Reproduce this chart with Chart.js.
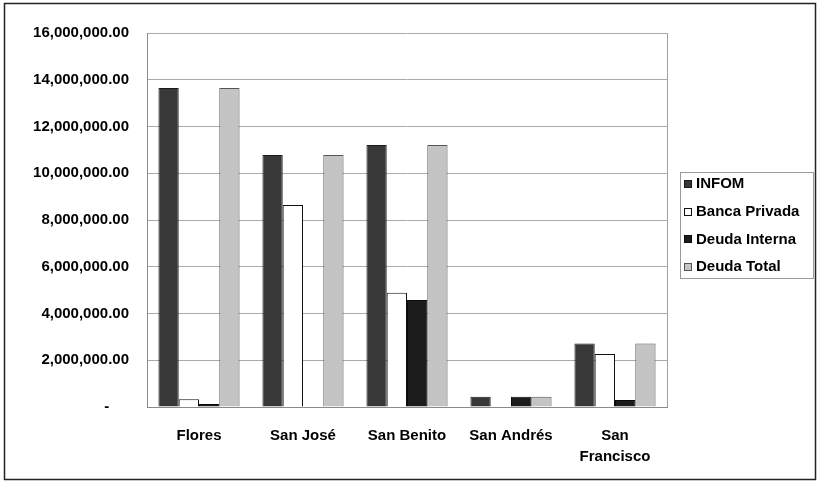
<!DOCTYPE html>
<html>
<head>
<meta charset="utf-8">
<script src="https://cdn.jsdelivr.net/npm/chart.js@4.4.1/dist/chart.umd.min.js"></script>
<style>
  html, body { margin: 0; padding: 0; background: #ffffff; }
  #wrap { width: 819px; height: 484px; }
</style>
</head>
<body>
<div id="wrap"><canvas id="chart" width="819" height="484"></canvas></div>
<script>
// Municipalities (last one wraps onto two lines)
const categories = ['Flores', 'San José', 'San Benito', 'San Andrés', ['San', 'Francisco']];

// Debt by source, in quetzales
const infom        = [13650000, 10780000, 11210000, 440000, 2720000];
const bancaPrivada = [  330000,  8640000,  4890000,      0, 2270000];
const deudaInterna = [  130000,        0,  4580000, 440000,  300000];
const deudaTotal   = [13650000, 10780000, 11210000, 440000, 2720000];

const seriesNames = ['INFOM', 'Banca Privada', 'Deuda Interna', 'Deuda Total'];

// Y-axis range and step
const yMin = 0;
const yMax = 16000000;
const yStep = 2000000;

const FONT = '"Liberation Sans", Arial, sans-serif';

function fmtMoney(v) {
  if (v === 0) return '-\u2007\u2007\u2009';
  return v.toLocaleString('en-US', { minimumFractionDigits: 2, maximumFractionDigits: 2 });
}

// Outer frame, plot-area border and the boxed legend on the right
const decor = {
  id: 'decor',
  beforeDraw(chart) {
    const ctx = chart.ctx;
    ctx.save();
    ctx.fillStyle = '#ffffff';
    ctx.fillRect(0, 0, chart.width, chart.height);
    ctx.strokeStyle = '#222222';
    ctx.lineWidth = 1.5;
    ctx.strokeRect(4.5, 3.5, 811, 476);
    ctx.restore();
  },
  beforeDatasetsDraw(chart) {
    const { ctx, chartArea: a } = chart;
    ctx.save();
    ctx.strokeStyle = '#a0a0a0';
    ctx.lineWidth = 1;
    ctx.beginPath();
    ctx.moveTo(Math.round(a.right) + 0.5, a.top);
    ctx.lineTo(Math.round(a.right) + 0.5, a.bottom);
    ctx.stroke();
    ctx.restore();
  },
  afterDraw(chart) {
    const ctx = chart.ctx;
    const box = { x: 680, y: 172, w: 133, h: 106 };
    ctx.save();
    ctx.strokeStyle = '#9a9a9a';
    ctx.lineWidth = 1;
    ctx.strokeRect(box.x + 0.5, box.y + 0.5, box.w, box.h);
    ctx.font = 'bold 15px ' + FONT;
    ctx.textBaseline = 'middle';
    ctx.textAlign = 'left';
    chart.data.datasets.forEach((ds, i) => {
      const cy = 184 + i * 27.7;
      ctx.fillStyle = ds.backgroundColor;
      ctx.fillRect(684, Math.round(cy - 4), 8, 8);
      ctx.strokeStyle = ds.borderColor;
      ctx.strokeRect(684.5, Math.round(cy - 4) + 0.5, 7, 7);
      ctx.fillStyle = '#000000';
      ctx.fillText(ds.label, 696, cy);
    });
    ctx.restore();
  }
};

const palette = [
  { bg: '#383838', border: '#1a1a1a' },
  { bg: '#ffffff', border: '#111111' },
  { bg: '#1c1c1c', border: '#0a0a0a' },
  { bg: '#c4c4c4', border: '#555555' }
];

const seriesValues = [infom, bancaPrivada, deudaInterna, deudaTotal];

new Chart(document.getElementById('chart'), {
  type: 'bar',
  data: {
    labels: categories,
    datasets: seriesValues.map((vals, i) => ({
      label: seriesNames[i],
      data: vals,
      backgroundColor: palette[i].bg,
      borderColor: palette[i].border,
      borderWidth: 1,
      categoryPercentage: 0.78,
      barPercentage: 1.0
    }))
  },
  options: {
    responsive: false,
    animation: false,
    devicePixelRatio: 1,
    layout: { padding: { left: 8, right: 152, top: 33, bottom: 8 } },
    plugins: {
      legend: { display: false },
      tooltip: { enabled: false }
    },
    scales: {
      x: {
        grid: { display: false, drawTicks: false },
        border: { display: true, color: '#8a8a8a', width: 1 },
        ticks: {
          color: '#000000',
          font: { family: FONT, size: 15, weight: 'bold', lineHeight: 1.4 },
          padding: 18,
          maxRotation: 0,
          autoSkip: false
        },
        afterFit(scale) { scale.height = 484 - 407 - 8; }
      },
      y: {
        min: yMin,
        max: yMax,
        grid: { color: '#aaaaaa', lineWidth: 1, drawTicks: false },
        border: { display: true, color: '#8a8a8a', width: 1 },
        ticks: {
          stepSize: yStep,
          color: '#000000',
          font: { family: FONT, size: 15, weight: 'bold' },
          padding: 18,
          callback: (v) => fmtMoney(v)
        },
        afterFit(scale) { scale.width = 147 - 8; }
      }
    }
  },
  plugins: [decor]
});
</script>
</body>
</html>
